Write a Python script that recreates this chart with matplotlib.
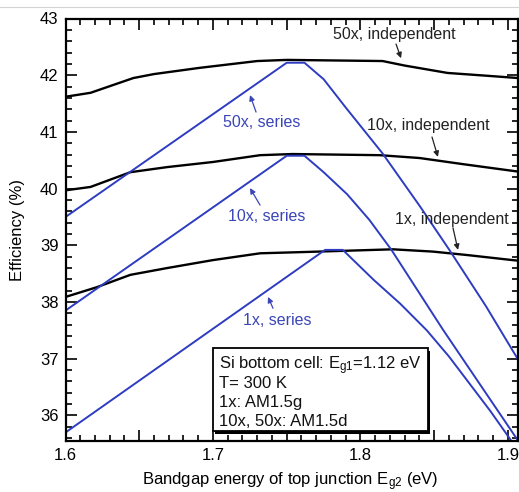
import matplotlib
matplotlib.use("Agg")
import matplotlib.pyplot as plt
from matplotlib.ticker import MultipleLocator, FuncFormatter
from matplotlib.patches import Rectangle
from matplotlib.lines import Line2D

plt.rcParams['font.family'] = ['Liberation Sans', 'DejaVu Sans']
plt.rcParams['mathtext.fontset'] = 'custom'
plt.rcParams['mathtext.rm'] = 'Liberation Sans'
plt.rcParams['mathtext.it'] = 'Liberation Sans:italic'

# ---- data ----
x_50i = [1.600, 1.617, 1.646, 1.660, 1.691, 1.730, 1.750, 1.815, 1.830, 1.859, 1.886, 1.907]
y_50i = [41.62, 41.69, 41.95, 42.02, 42.13, 42.25, 42.27, 42.25, 42.17, 42.04, 41.99, 41.95]

x_10i = [1.600, 1.617, 1.644, 1.669, 1.700, 1.732, 1.754, 1.813, 1.840, 1.870, 1.907]
y_10i = [39.97, 40.03, 40.29, 40.38, 40.47, 40.59, 40.61, 40.59, 40.54, 40.43, 40.30]

x_1i = [1.600, 1.621, 1.644, 1.669, 1.700, 1.732, 1.759, 1.822, 1.849, 1.872, 1.903, 1.907]
y_1i = [38.09, 38.26, 38.48, 38.60, 38.74, 38.86, 38.88, 38.93, 38.89, 38.83, 38.74, 38.73]

x_50s = [1.600, 1.750, 1.762, 1.775, 1.790, 1.815, 1.840, 1.860, 1.885, 1.907]
y_50s = [39.50, 42.22, 42.22, 41.93, 41.43, 40.62, 39.70, 38.93, 37.93, 36.98]

x_10s = [1.600, 1.750, 1.762, 1.775, 1.791, 1.806, 1.821, 1.856, 1.907]
y_10s = [37.85, 40.58, 40.58, 40.29, 39.90, 39.45, 38.92, 37.51, 35.55]

x_1s = [1.600, 1.776, 1.788, 1.809, 1.827, 1.845, 1.860, 1.874, 1.888, 1.901, 1.905]
y_1s = [35.70, 38.92, 38.92, 38.39, 37.97, 37.50, 37.04, 36.56, 36.08, 35.60, 35.45]

labels_indep = ["50x, independent", "10x, independent", "1x, independent"]
labels_series = ["50x, series", "10x, series", "1x, series"]
box_lines = ["Si bottom cell: E$_{\\mathrm{g1}}$=1.12 eV",
             "T= 300 K",
             "1x: AM1.5g",
             "10x, 50x: AM1.5d"]

BLUE = '#2d3cc0'
BLUE_T = '#3a45b8'

fig = plt.figure(figsize=(5.19, 4.92), dpi=100)
ax = fig.add_axes([65.5/519, 1 - 441/492, (518 - 65.5)/519, (441 - 18.5)/492])

# thin gray screenshot line at top
fig.add_artist(Line2D([0, 1], [1 - 7/492, 1 - 7/492], transform=fig.transFigure,
                      color='#d4d4d4', lw=0.8))

for xs, ys in [(x_50i, y_50i), (x_10i, y_10i), (x_1i, y_1i)]:
    ax.plot(xs, ys, color='black', lw=1.7, solid_joinstyle='round')
for xs, ys in [(x_50s, y_50s), (x_10s, y_10s), (x_1s, y_1s)]:
    ax.plot(xs, ys, color=BLUE, lw=1.4, solid_joinstyle='round')

ax.set_xlim(1.6, 1.9068)
ax.set_ylim(35.55, 43.0)

ax.xaxis.set_major_locator(MultipleLocator(0.05))
ax.xaxis.set_minor_locator(MultipleLocator(0.01))
ax.xaxis.set_major_formatter(FuncFormatter(
    lambda v, p: ("%.1f" % v) if abs(round(v * 10) - v * 10) < 1e-6 else ""))
ax.yaxis.set_major_locator(MultipleLocator(1))
ax.yaxis.set_minor_locator(MultipleLocator(0.2))
ax.tick_params(which='both', direction='in', top=True, right=True,
               labelsize=12, width=1.2, colors='black')
ax.tick_params(which='major', length=8, pad=5)
ax.tick_params(which='minor', length=4.5)
for s in ax.spines.values():
    s.set_linewidth(1.6)

ax.set_xlabel("Bandgap energy of top junction E$_{\\mathrm{g2}}$ (eV)", fontsize=12)
ax.set_ylabel("Efficiency (%)", fontsize=12)
ax.xaxis.label.set_va('center')
ax.xaxis.set_label_coords(0.496, -0.097)
ax.yaxis.label.set_va('center')
ax.yaxis.set_label_coords(-0.105, 0.5)

# independent annotations (black)
ind_text_pos = [(1.8227, 42.71), (1.8458, 41.12), (1.8620, 39.45)]
ind_arrows = [((1.8241, 42.55), (1.8275, 42.30)),
              ((1.8485, 40.91), (1.8525, 40.56)),
              ((1.8627, 39.31), (1.8661, 38.92))]
for lab, (tx, ty), (tail, tip) in zip(labels_indep, ind_text_pos, ind_arrows):
    ax.text(tx, ty, lab, fontsize=11.5, ha='center', va='center', color='#222222')
    ax.annotate('', xy=tip, xytext=tail,
                arrowprops=dict(arrowstyle='-|>', color='#222222', lw=0.9,
                                mutation_scale=8, shrinkA=0, shrinkB=0))

# series annotations (blue)
ser_text_pos = [(1.7333, 41.17), (1.7366, 39.50), (1.7434, 37.68)]
ser_arrows = [((1.7292, 41.35), (1.7251, 41.65)),
              ((1.7319, 39.71), (1.7251, 40.01)),
              ((1.7407, 37.89), (1.7373, 38.09))]
for lab, (tx, ty), (tail, tip) in zip(labels_series, ser_text_pos, ser_arrows):
    ax.text(tx, ty, lab, fontsize=11.5, ha='center', va='center', color=BLUE_T)
    ax.annotate('', xy=tip, xytext=tail,
                arrowprops=dict(arrowstyle='-|>', color=BLUE_T, lw=0.9,
                                mutation_scale=8, shrinkA=0, shrinkB=0))

# info box with shadow
bx0, bx1 = (213 - 65.5) / 452.5, (428 - 65.5) / 452.5
by0, by1 = (441 - 431) / 422.5, (441 - 348) / 422.5
ax.add_patch(Rectangle((bx0 + 0.005, by0 - 0.006), bx1 - bx0, by1 - by0,
                       transform=ax.transAxes, facecolor='black', edgecolor='black',
                       lw=0, zorder=4))
ax.add_patch(Rectangle((bx0, by0), bx1 - bx0, by1 - by0, transform=ax.transAxes,
                       facecolor='white', edgecolor='black', lw=1.3, zorder=5))
line_px = [362, 382, 401, 420]
for txt, py in zip(box_lines, line_px):
    ax.text((219 - 65.5) / 452.5, (441 - py) / 422.5, txt, transform=ax.transAxes,
            fontsize=12, ha='left', va='center_baseline', zorder=6, color='#111111')

fig.savefig("out.png", dpi=100)
